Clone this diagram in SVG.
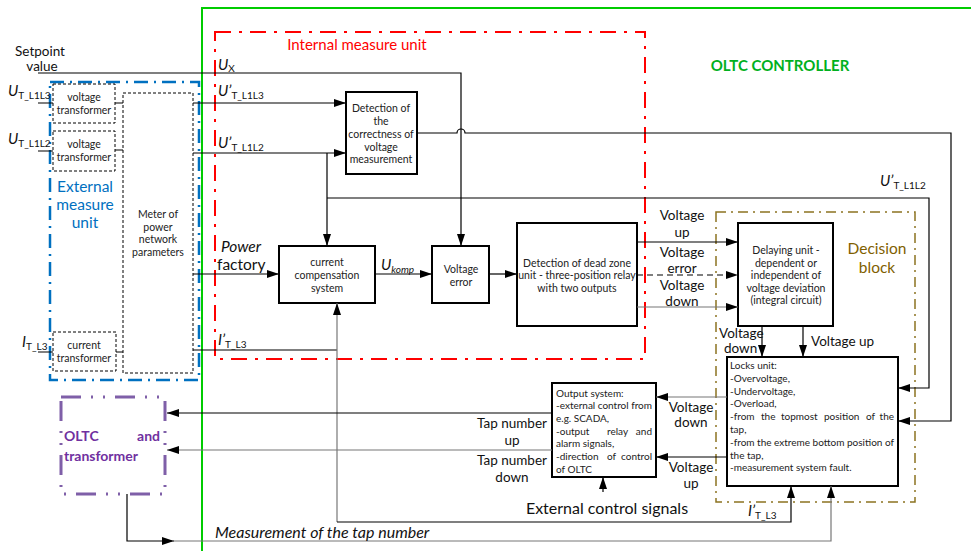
<svg xmlns="http://www.w3.org/2000/svg" width="971" height="551" viewBox="0 0 971 551">
<style>
.t{font-family:Lato,"Liberation Sans",sans-serif;font-size:10.5px;fill:#222}
.t2{font-family:Lato,"Liberation Sans",sans-serif;font-size:10px;fill:#222}
.l{font-family:Lato,"Liberation Sans",sans-serif;font-size:13.5px;fill:#111}
.box{fill:#fff;stroke:#000;stroke-width:2}
.dbox{fill:#fff;stroke:#000;stroke-width:1;stroke-dasharray:3,2}
.ln{fill:none;stroke:#000;stroke-width:1.2}
.gr{stroke:#777}
.i{font-style:italic}
.s{font-size:10px}
</style>
<defs>
<marker id="a" viewBox="0 0 12 8" refX="12" refY="4" markerWidth="12" markerHeight="8" markerUnits="userSpaceOnUse" orient="auto"><path d="M0,0 L12,4 L0,8 z" fill="#000"/></marker>
</defs>
<rect width="971" height="551" fill="#fff"/>

<g id="controller">
<rect x="202" y="8" width="820" height="600" fill="none" stroke="#00CC00" stroke-width="2"/>
<text x="780" y="71" text-anchor="middle" font-family="Lato,'Liberation Sans',sans-serif" font-size="15" font-weight="bold" fill="#00B020">OLTC CONTROLLER</text>
</g>

<g id="external-measure-unit">
<rect x="50" y="82" width="149" height="298" fill="none" stroke="#0070C0" stroke-width="2.5" stroke-dasharray="14,6,2,6"/>
<text x="85" y="192" text-anchor="middle" font-family="Lato,'Liberation Sans',sans-serif" font-size="15.5" fill="#0070C0"><tspan x="85">External</tspan><tspan x="85" dy="18">measure</tspan><tspan x="85" dy="18">unit</tspan></text>
</g>

<g id="internal-measure-unit">
<rect x="215" y="32" width="430" height="327" fill="none" stroke="#FF0000" stroke-width="2" stroke-dasharray="16,8,3,8"/>
<text x="357" y="50" text-anchor="middle" font-family="Lato,'Liberation Sans',sans-serif" font-size="15" fill="#FF0000">Internal measure unit</text>
</g>

<g id="decision-block">
<rect x="716" y="212" width="199" height="290" fill="none" stroke="#8C7320" stroke-width="1.5" stroke-dasharray="10,5,2,5"/>
<text x="877" y="254" text-anchor="middle" font-family="Lato,'Liberation Sans',sans-serif" font-size="15.5" fill="#7F6000"><tspan x="877">Decision</tspan><tspan x="877" dy="19">block</tspan></text>
</g>

<g id="oltc-transformer" font-family="Lato,'Liberation Sans',sans-serif" font-size="14" font-weight="bold" fill="#7030A0">
<rect x="61" y="397" width="104" height="97" fill="none" stroke="#7F5FA8" stroke-width="3" stroke-dasharray="20,10,2,10,2,10"/>
<text x="64" y="441">OLTC</text>
<text x="160" y="441" text-anchor="end">and</text>
<text x="64" y="461">transformer</text>
</g>

<g id="vt1">
<rect class="dbox" x="53" y="84" width="62" height="39"/>
<text class="t" text-anchor="middle"><tspan x="84" y="101">voltage</tspan><tspan x="84" y="114">transformer</tspan></text>
</g>
<g id="vt2">
<rect class="dbox" x="53" y="131" width="62" height="40"/>
<text class="t" text-anchor="middle"><tspan x="84" y="148">voltage</tspan><tspan x="84" y="161">transformer</tspan></text>
</g>
<g id="ct">
<rect class="dbox" x="53" y="332" width="63" height="39"/>
<text class="t" text-anchor="middle"><tspan x="84" y="349">current</tspan><tspan x="84" y="362">transformer</tspan></text>
</g>
<g id="meter">
<rect class="dbox" x="123" y="93" width="70" height="280"/>
<text class="t" text-anchor="middle"><tspan x="158" y="218">Meter of</tspan><tspan x="158" y="231">power</tspan><tspan x="158" y="243">network</tspan><tspan x="158" y="256">parameters</tspan></text>
</g>

<g id="detection-correctness">
<rect class="box" x="346" y="92" width="71" height="82"/>
<text class="t" text-anchor="middle"><tspan x="381" y="112">Detection of</tspan><tspan x="381" y="125">the</tspan><tspan x="381" y="138">correctness of</tspan><tspan x="381" y="151">voltage</tspan><tspan x="381" y="163">measurement</tspan></text>
</g>
<g id="current-compensation">
<rect class="box" x="279" y="246" width="96" height="57"/>
<text class="t" text-anchor="middle"><tspan x="327" y="266">current</tspan><tspan x="327" y="279">compensation</tspan><tspan x="327" y="292">system</tspan></text>
</g>
<g id="voltage-error">
<rect class="box" x="432" y="246" width="57" height="57"/>
<text class="t" text-anchor="middle"><tspan x="461" y="273">Voltage</tspan><tspan x="461" y="286">error</tspan></text>
</g>
<g id="dead-zone">
<rect class="box" x="517" y="223" width="120" height="103"/>
<text class="t" text-anchor="middle"><tspan x="577" y="267">Detection of dead zone</tspan><tspan x="577" y="279">unit - three-position relay</tspan><tspan x="577" y="292">with two outputs</tspan></text>
</g>
<g id="delaying">
<rect class="box" x="738" y="223" width="95" height="103"/>
<text class="t" text-anchor="middle"><tspan x="786" y="254">Delaying unit -</tspan><tspan x="786" y="267">dependent or</tspan><tspan x="786" y="279">independent of</tspan><tspan x="786" y="292">voltage deviation</tspan><tspan x="786" y="304">(integral circuit)</tspan></text>
</g>
<g id="locks">
<rect class="box" x="727" y="357" width="171" height="129"/>
<text class="t2">
<tspan x="730" y="369">Locks unit:</tspan>
<tspan x="730" y="382">-Overvoltage,</tspan>
<tspan x="730" y="395">-Undervoltage,</tspan>
<tspan x="730" y="407">-Overload,</tspan>
</text>
<text class="t2" y="420"><tspan x="730">-from</tspan><tspan x="761">the</tspan><tspan x="781">topmost</tspan><tspan x="824">position</tspan><tspan x="866">of</tspan><tspan x="894" text-anchor="end">the</tspan></text>
<text class="t2"><tspan x="730" y="433">tap,</tspan></text>
<text class="t2" x="730" y="446" textLength="164" lengthAdjust="spacing">-from the extreme bottom position of</text>
<text class="t2"><tspan x="730" y="459">the tap,</tspan><tspan x="730" y="471">-measurement system fault.</tspan></text>
</g>
<g id="output-system">
<rect class="box" x="552" y="383" width="104" height="94"/>
<text class="t2"><tspan x="556" y="397">Output system:</tspan></text>
<text class="t2" x="556" y="409" textLength="96" lengthAdjust="spacing">-external control from</text>
<text class="t2" x="556" y="422">e.g. SCADA,</text>
<text class="t2" y="435"><tspan x="556">-output</tspan><tspan x="607">relay</tspan><tspan x="652" text-anchor="end">and</tspan></text>
<text class="t2" x="556" y="447">alarm signals,</text>
<text class="t2" y="460"><tspan x="556">-direction</tspan><tspan x="607">of</tspan><tspan x="652" text-anchor="end">control</tspan></text>
<text class="t2" x="556" y="473">of OLTC</text>
</g>

<g id="connectors">
<path class="ln" d="M38,73 H461 V246" marker-end="url(#a)"/>
<path class="ln" d="M38,103 H53 M115,103 H123 M38,151 H53 M115,150 H123 M38,352 H53 M116,352 H123"/>
<path class="ln" d="M193,103 H346" marker-end="url(#a)"/>
<path class="ln" d="M193,153 H346" marker-end="url(#a)"/>
<path class="ln" d="M327,153 V246" marker-end="url(#a)"/>
<path class="ln" d="M327,198 H929 V388 H898" marker-end="url(#a)"/>
<path class="ln" d="M417,133 H457 a4,4 0 0 1 8,0 H951 V421 H898" marker-end="url(#a)"/>
<path class="ln" d="M193,274 H279" marker-end="url(#a)"/>
<path class="ln" d="M375,274 H432" marker-end="url(#a)"/>
<path class="ln" d="M489,274 H517" marker-end="url(#a)"/>
<path class="ln" d="M193,350 H337"/>
<path class="ln gr" d="M337,522 V303" marker-end="url(#a)"/>
<path class="ln" d="M337,522 H791 V486" marker-end="url(#a)"/>
<path class="ln" d="M637,242 H738" marker-end="url(#a)"/>
<path class="ln" d="M637,275 H738" stroke-dasharray="6,4" marker-end="url(#a)"/>
<path class="ln gr" d="M637,307 H738" stroke-width="1.6" marker-end="url(#a)"/>
<path class="ln" d="M762,326 V357" marker-end="url(#a)"/>
<path class="ln" d="M803,326 V357" marker-end="url(#a)"/>
<path class="ln gr" d="M727,397 H656" stroke-width="1.6" marker-end="url(#a)"/>
<path class="ln" d="M727,457 H656" marker-end="url(#a)"/>
<path class="ln" d="M552,413 H167" marker-end="url(#a)"/>
<path class="ln gr" d="M552,450 H167" marker-end="url(#a)"/>
<path class="ln" d="M603,492 V477" marker-end="url(#a)"/>
<path class="ln" d="M127,494 V541 H174" marker-end="url(#a)"/>
<path class="ln gr" d="M172,541 H831 V486" marker-end="url(#a)"/>
</g>

<g id="labels">
<text class="l" text-anchor="middle"><tspan x="40" y="56">Setpoint</tspan><tspan x="42" y="71">value</tspan></text>
<text class="l" x="8" y="96"><tspan class="i" font-size="15">U</tspan><tspan class="s" dy="3" font-size="9.5">T_L1L3</tspan></text>
<text class="l" x="8" y="144"><tspan class="i" font-size="15">U</tspan><tspan class="s" dy="3" font-size="9.5">T_L1L2</tspan></text>
<text class="l" x="22" y="347"><tspan class="i" font-size="15">I</tspan><tspan class="s" dy="3" font-size="9.5">T_L3</tspan></text>
<text class="l" x="218" y="70"><tspan class="i" font-size="15">U</tspan><tspan class="s" dy="2">X</tspan></text>
<text class="l" x="218" y="96"><tspan class="i" font-size="15">U’</tspan><tspan class="s" dy="3">T_L1L3</tspan></text>
<text class="l" x="218" y="148"><tspan class="i" font-size="15">U’</tspan><tspan class="s" dy="3">T_L1L2</tspan></text>
<text class="l" x="218" y="345"><tspan class="i" font-size="15">I’</tspan><tspan class="s" dy="3">T_L3</tspan></text>
<text class="l i" x="221" y="252" style="font-size:15.5px">Power</text>
<text class="l" x="217" y="270" style="font-size:15.5px">factory</text>
<text class="l" x="381" y="270"><tspan class="i" font-size="15">U</tspan><tspan class="i s" dy="3" font-size="11">komp</tspan></text>
<text class="l" text-anchor="middle"><tspan x="682" y="220">Voltage</tspan><tspan x="682" y="237">up</tspan></text>
<text class="l" text-anchor="middle"><tspan x="682" y="257">Voltage</tspan><tspan x="682" y="273">error</tspan></text>
<text class="l" text-anchor="middle"><tspan x="682" y="290">Voltage</tspan><tspan x="682" y="306">down</tspan></text>
<text class="l" x="880" y="186"><tspan class="i" font-size="15">U’</tspan><tspan class="s" dy="3">T_L1L2</tspan></text>
<text class="l"><tspan x="719" y="338">Voltage</tspan><tspan x="724" y="353">down</tspan></text>
<text class="l" x="811" y="346">Voltage up</text>
<text class="l" text-anchor="middle"><tspan x="691" y="412">Voltage</tspan><tspan x="691" y="427">down</tspan></text>
<text class="l" text-anchor="middle"><tspan x="691" y="472">Voltage</tspan><tspan x="691" y="488">up</tspan></text>
<text class="l" text-anchor="middle"><tspan x="512" y="428">Tap number</tspan><tspan x="512" y="445">up</tspan></text>
<text class="l" text-anchor="middle"><tspan x="512" y="465">Tap number</tspan><tspan x="512" y="482">down</tspan></text>
<text class="l" x="607" y="514" text-anchor="middle" style="font-size:16px">External control signals</text>
<text class="l" x="748" y="516"><tspan class="i" font-size="15">I’</tspan><tspan class="s" dy="3">T_L3</tspan></text>
<text class="l i" x="215" y="538" style="font-size:16px">Measurement of the tap number</text>
</g>
</svg>
